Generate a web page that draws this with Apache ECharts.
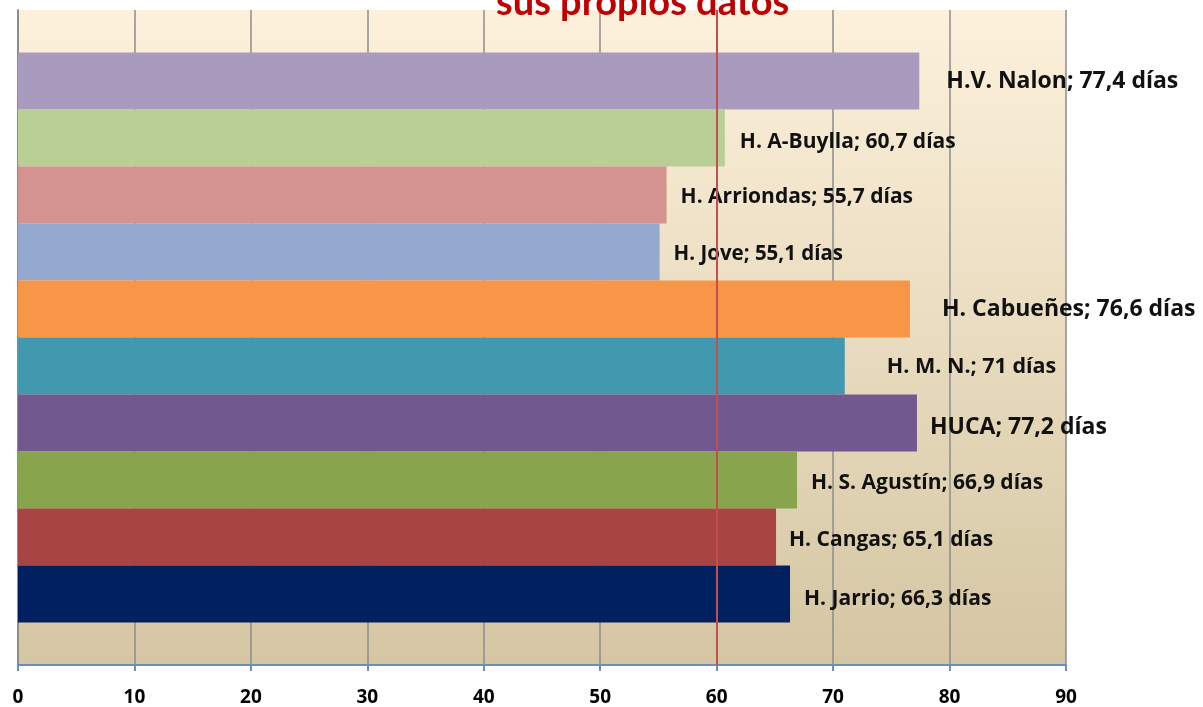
<!DOCTYPE html>
<html>
<head>
<meta charset="utf-8">
<script src="https://cdn.jsdelivr.net/npm/echarts@6/dist/echarts.min.js"></script>
<style>
html, body { margin: 0; padding: 0; background: #fff; }
#main { width: 1203px; height: 707px; }
</style>
</head>
<body>
<div id="main"></div>
<script>
// hospitales, de arriba a abajo
var hospitales = ['H.V. Nalon', 'H. A-Buylla', 'H. Arriondas', 'H. Jove', 'H. Cabueñes', 'H. M. N.', 'HUCA', 'H. S. Agustín', 'H. Cangas', 'H. Jarrio'];
var dias = [77.4, 60.7, 55.7, 55.1, 76.6, 71, 77.2, 66.9, 65.1, 66.3];
var xTicks = [0, 10, 20, 30, 40, 50, 60, 70, 80, 90];
var referencia = 60;

var colores = ['#a99bbd', '#bacf96', '#d49391', '#95a9d0', '#f79646', '#4198af', '#71588f', '#88a54d', '#a84543', '#002060'];
var tamLabel = [23, 21, 21, 20.5, 23, 21.5, 23, 21, 21, 21];
var distLabel = [27, 15, 14, 14, 32, 42, 13, 14, 13, 14];
var subeLabel = [0, 4, 2, 2, 0, 1, 4, 3, 3, 5];

var myChart = echarts.init(document.getElementById('main'));

var series = [];
for (var i = 0; i < hospitales.length; i++) {
    series.push({
        name: hospitales[i],
        type: 'bar',
        barGap: '0%',
        barCategoryGap: '13%',
        itemStyle: { color: colores[i] },
        label: {
            show: true,
            position: 'right',
            distance: distLabel[i],
            offset: [0, subeLabel[i]],
            fontFamily: 'Open Sans',
            fontWeight: 'bold',
            fontSize: tamLabel[i],
            color: '#111',
            formatter: function (p) {
                return p.seriesName + '; ' + String(p.value).replace('.', ',') + ' días';
            }
        },
        data: [dias[i]]
    });
}
// linea roja en 60
series[0].markLine = {
    silent: true,
    symbol: 'none',
    label: { show: false },
    lineStyle: { color: '#c0504d', width: 2, type: 'solid' },
    data: [{ xAxis: referencia }]
};

option = {
    animation: false,
    title: {
        text: 'sus propios datos',
        left: 491,
        top: -21,
        textStyle: {
            fontFamily: 'Lato',
            fontWeight: 'bold',
            fontSize: 38,
            color: '#c00000'
        }
    },
    grid: {
        left: 18,
        right: 137,
        top: 10,
        bottom: 41,
        show: true,
        borderWidth: 0,
        backgroundColor: new echarts.graphic.LinearGradient(0, 0, 0, 1, [
            { offset: 0, color: '#fdf1dc' },
            { offset: 1, color: '#d4c6a2' }
        ])
    },
    xAxis: {
        type: 'value',
        min: 0,
        max: 90,
        interval: 10,
        axisLine: { show: true, lineStyle: { color: '#6c8ebf', width: 2 } },
        axisTick: { show: true, length: 6, lineStyle: { color: '#6c8ebf', width: 2 } },
        splitLine: { show: true, lineStyle: { color: '#8c8c8c', width: 1.5 } },
        axisLabel: {
            margin: 23,
            fontFamily: 'Open Sans',
            fontWeight: 'bold',
            fontSize: 19,
            color: '#000',
            formatter: function (v) { return xTicks.indexOf(v) >= 0 ? String(v) : ''; }
        }
    },
    yAxis: {
        type: 'category',
        data: [''],
        axisLine: { show: true, lineStyle: { color: '#8c8c8c', width: 2 } },
        axisTick: { show: false },
        axisLabel: { show: false }
    },
    series: series
};

myChart.setOption(option);
</script>
</body>
</html>
